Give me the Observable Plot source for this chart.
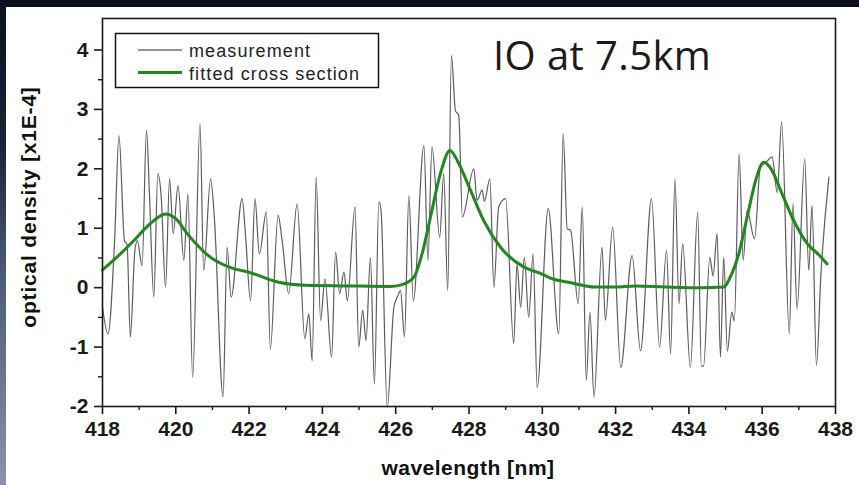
<!DOCTYPE html>
<html>
<head>
<meta charset="utf-8">
<script src="https://cdn.jsdelivr.net/npm/d3@7"></script>
<script src="https://cdn.jsdelivr.net/npm/@observablehq/plot@0.6"></script>
<style>
  body { margin: 0; background: #fff; }
  #wrap { position: relative; width: 859px; height: 485px; overflow: hidden; background: #fff; }
  #chart { position: absolute; left: 0; top: 0; }
  #overlay { position: absolute; left: 0; top: 0; pointer-events: none; }
</style>
</head>
<body>
<div id="wrap">
  <div id="chart"></div>
  <svg id="overlay" width="859" height="485" xmlns="http://www.w3.org/2000/svg">
    <defs>
      <linearGradient id="lg" x1="0" y1="0" x2="0" y2="1">
        <stop offset="0" stop-color="#0b101c"/>
        <stop offset="0.3" stop-color="#1a2436"/>
        <stop offset="0.55" stop-color="#4a5874"/>
        <stop offset="1" stop-color="#8894aa"/>
      </linearGradient>
    </defs>
    <rect x="0" y="0" width="859" height="7" fill="#0b101c"/>
    <rect x="0" y="0" width="6" height="485" fill="url(#lg)"/>
    <text id="title" x="493" y="70" font-family="'Open Sans', sans-serif" font-size="40" letter-spacing="0.4" fill="#1b1b1b"></text>
    <rect x="115.5" y="33.5" width="263" height="54" fill="#fff" stroke="#111" stroke-width="1.5"/>
    <line x1="138" x2="182" y1="50" y2="50" stroke="#6f6f6f" stroke-width="1.3"/>
    <line x1="138" x2="182" y1="72.5" y2="72.5" stroke="#23871f" stroke-width="3"/>
    <text id="leg1" x="189" y="56.5" font-family="'Liberation Sans', Arial, sans-serif" font-size="18" letter-spacing="1.1" fill="#222"></text>
    <text id="leg2" x="189" y="79.5" font-family="'Liberation Sans', Arial, sans-serif" font-size="18" letter-spacing="1.1" fill="#222"></text>
    <text id="ylab" transform="translate(36,207) rotate(-90)" text-anchor="middle" font-family="'Liberation Sans', Arial, sans-serif" font-weight="bold" font-size="21" letter-spacing="0.8" fill="#111"></text>
    <text id="xlab" x="468" y="475" text-anchor="middle" font-family="'Liberation Sans', Arial, sans-serif" font-weight="bold" font-size="21" letter-spacing="0.5" fill="#111"></text>
  </svg>
</div>
<script>
// ---- texts ----
const titleText = "IO at 7.5km";
const seriesNames = ["measurement", "fitted cross section"];
const xLabel = "wavelength [nm]";
const yLabel = "optical density [x1E-4]";

// ---- ticks ----
const xTicks = [418, 420, 422, 424, 426, 428, 430, 432, 434, 436, 438];
const xMinor = [419, 421, 423, 425, 427, 429, 431, 433, 435, 437];
const yTicks = [-2, -1, 0, 1, 2, 3, 4];
const yMinor = [-1.5, -0.5, 0.5, 1.5, 2.5, 3.5];

// ---- measurement (wavelength nm, optical density x1E-4) ----
const measWl = [
  418.00, 418.15, 418.33, 418.45, 418.60, 418.67, 418.76, 418.88, 418.95, 419.08,
  419.20, 419.28, 419.40, 419.51, 419.60, 419.72, 419.83, 419.93, 420.06, 420.22,
  420.33, 420.46, 420.66, 420.76, 420.95, 421.05, 421.29, 421.40, 421.51, 421.81,
  421.90, 422.04, 422.16, 422.28, 422.47, 422.58, 422.79, 422.90, 423.08, 423.31,
  423.52, 423.63, 423.72, 423.83, 423.95, 424.07, 424.25, 424.36, 424.47, 424.59,
  424.68, 424.89, 424.99, 425.10, 425.19, 425.31, 425.42, 425.54, 425.60, 425.77,
  425.95, 426.05, 426.13, 426.24, 426.36, 426.48, 426.77, 426.88, 426.99, 427.20,
  427.31, 427.42, 427.52, 427.63, 427.72, 427.82, 428.13, 428.22, 428.36, 428.42,
  428.57, 428.68, 428.81, 429.00, 429.22, 429.31, 429.41, 429.51, 429.63, 429.75,
  429.86, 430.16, 430.45, 430.57, 430.68, 430.77, 430.98, 431.09, 431.20, 431.30,
  431.41, 431.63, 431.72, 431.92, 432.14, 432.45, 432.68, 432.98, 433.20, 433.39,
  433.50, 433.62, 433.73, 433.83, 434.04, 434.24, 434.34, 434.40, 434.57, 434.66,
  434.77, 434.86, 434.95, 435.05, 435.17, 435.24, 435.37, 435.48, 435.59, 435.79,
  435.95, 436.09, 436.27, 436.41, 436.53, 436.74, 436.84, 436.95, 437.16, 437.27,
  437.36, 437.48, 437.60, 437.82
];
const measOd = [
  -0.33, -0.78, 0.79, 2.56, 0.79, 0.73, -0.83, 0.60, 0.79, 0.37,
  2.65, 1.60, -0.16, 1.92, 1.55, 0.01, 1.83, 0.91, 1.72, 0.46,
  1.58, -1.51, 2.76, 0.29, 1.83, 1.20, -1.84, 0.68, -0.16, 1.50,
  0.90, -0.22, 1.50, 0.57, 1.27, -1.03, 1.22, 0.80, -0.10, 1.41,
  -0.86, -0.44, -1.23, 1.86, -0.55, 0.15, -1.17, 0.60, -0.10, 0.26,
  -0.22, 1.36, -1.00, -0.38, -0.89, 0.51, -1.62, 1.45, 1.30, -2.01,
  -0.33, -0.15, -0.05, -0.83, 1.55, -0.22, 2.39, 0.46, 2.37, 0.85,
  1.92, -0.05, 3.91, 2.98, 2.90, 1.19, 2.00, 1.47, 1.64, 1.45,
  1.83, 0.01, 1.36, 1.50, -0.94, 0.40, -0.33, 0.51, -0.50, 0.57,
  -1.68, 1.33, -0.78, 2.59, 0.99, 0.97, -0.27, 1.36, -1.56, -0.41,
  -1.84, 0.68, -0.55, 1.02, -1.34, 0.54, -1.06, 1.50, -1.00, 0.63,
  -1.12, 1.83, -0.27, 0.74, -1.34, 1.27, -1.32, -1.32, 0.51, 0.20,
  0.91, -1.17, 0.51, -1.07, -0.41, -0.56, 2.25, 0.46, 1.30, 0.82,
  2.03, 2.10, 2.20, 1.60, 2.79, -0.78, 1.41, -0.36, 2.17, 0.29,
  1.38, -1.31, 0.20, 1.86
];

// ---- fitted cross section ----
const fitWl = [
  418.00, 418.49, 418.85, 419.31, 419.72, 420.00, 420.31, 420.95, 421.58, 421.99,
  422.81, 423.54, 424.63, 425.86, 426.22, 426.50, 426.72, 426.95, 427.22, 427.48,
  427.72, 428.04, 428.40, 428.86, 429.49, 429.95, 430.27, 430.72, 431.44, 431.99,
  432.54, 433.45, 434.30, 434.95, 435.13, 435.36, 435.59, 435.82, 436.04, 436.27,
  436.50, 436.86, 437.23, 437.55, 437.77
];
const fitOd = [
  0.30, 0.57, 0.79, 1.08, 1.24, 1.16, 0.91, 0.51, 0.32, 0.26,
  0.09, 0.04, 0.03, 0.02, 0.06, 0.18, 0.57, 1.19, 1.92, 2.31,
  2.09, 1.64, 1.13, 0.68, 0.35, 0.24, 0.15, 0.09, 0.01, 0.01,
  0.03, 0.01, 0.00, 0.01, 0.18, 0.57, 1.19, 1.80, 2.11, 1.97,
  1.64, 1.13, 0.74, 0.55, 0.40
];

const meas = measWl.map((w, i) => ({wl: w, od: measOd[i]}));
const fit = fitWl.map((w, i) => ({wl: w, od: fitOd[i]}));

const green = "#23871f";
const axisColor = "#1a1a1a";
const fmt = d => String(d);

const chart = Plot.plot({
  width: 859,
  height: 485,
  marginLeft: 102,
  marginRight: 24,
  marginTop: 18,
  marginBottom: 79,
  x: {domain: [418, 438]},
  y: {domain: [-2, 4.53]},
  style: {
    background: "transparent",
    fontFamily: "'Liberation Sans', Arial, sans-serif",
    fontSize: "21px",
    fontWeight: "bold",
    color: axisColor,
    overflow: "visible"
  },
  marks: [
    Plot.line(meas, {x: "wl", y: "od", stroke: "#5c5c5c", strokeWidth: 1.2, curve: "monotone-x"}),
    Plot.line(fit, {x: "wl", y: "od", stroke: green, strokeWidth: 3, curve: "monotone-x"}),
    Plot.frame({stroke: axisColor, strokeWidth: 1.6}),
    Plot.axisX(xTicks, {anchor: "bottom", tickSize: 8, tickPadding: 7, strokeWidth: 1.6, tickFormat: fmt, label: null}),
    Plot.axisX(xMinor, {anchor: "bottom", tickSize: 4, strokeWidth: 1.4, tickFormat: () => "", label: null}),
    Plot.axisY(yTicks, {anchor: "left", tickSize: 8, tickPadding: 6, strokeWidth: 1.6, tickFormat: fmt, label: null}),
    Plot.axisY(yMinor, {anchor: "left", tickSize: 4, strokeWidth: 1.4, tickFormat: () => "", label: null})
  ]
});
document.getElementById("chart").appendChild(chart);

document.getElementById("title").textContent = titleText;
document.getElementById("leg1").textContent = seriesNames[0];
document.getElementById("leg2").textContent = seriesNames[1];
document.getElementById("xlab").textContent = xLabel;
document.getElementById("ylab").textContent = yLabel;
</script>
</body>
</html>
